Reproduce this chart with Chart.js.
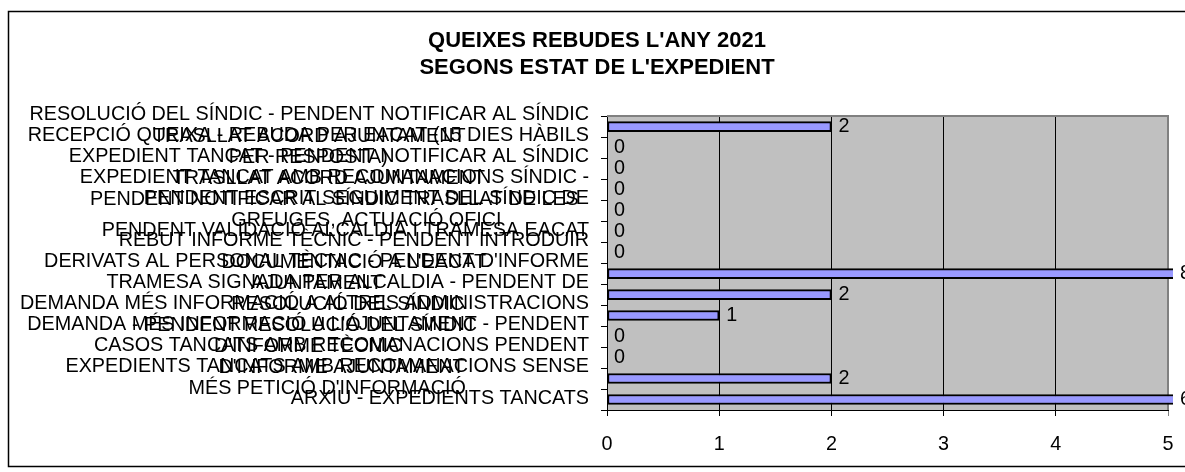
<!DOCTYPE html>
<html>
<head>
<meta charset="utf-8">
<script src="https://cdn.jsdelivr.net/npm/chart.js@4"></script>
<style>
  body { margin: 0; background: #fff; }
  #wrap { width: 1185px; height: 472px; }
</style>
</head>
<body>
<div id="wrap"><canvas id="queixesChart" width="1185" height="472"></canvas></div>
<script>
const titleLines = ["QUEIXES REBUDES L'ANY 2021", "SEGONS ESTAT DE L'EXPEDIENT"];

const categories = [
  ['RESOLUCIÓ DEL SÍNDIC - PENDENT NOTIFICAR AL SÍNDIC', 'TRASLLAT ACORD AJUNTAMENT'],
  ['RECEPCIÓ QUEIXA - REBUDA PER EACAT (15 DIES HÀBILS', 'PER RESPOSTA)'],
  ['EXPEDIENT TANCAT - PENDENT NOTIFICAR AL SÍNDIC', 'TRASLLAT ACORD AJUNTAMENT'],
  ['EXPEDIENT TANCAT AMB RECOMANACIONS SÍNDIC -', 'PENDENT NOTIFICAR AL SÍNDIC TRASLLAT DE LES'],
  ['PENDENT ESCRIT SEGUIMENT DEL SÍNDIC DE', 'GREUGES, ACTUACIÓ OFICI'],
  ['PENDENT VALIDACIÓ ALCALDIA I TRAMESA EACAT'],
  ['REBUT INFORME TÈCNIC - PENDENT INTRODUIR', "DOCUMENTACIÓ A L'EACAT"],
  ["DERIVATS AL PERSONAL TÈCNIC - PENDENT D'INFORME", 'AJUNTAMENT'],
  ['TRAMESA SIGNADA PER ALCALDIA - PENDENT DE', 'RESOLUCIÓ DEL SÍNDIC'],
  ['DEMANDA MÉS INFORMACIÓ A ALTRES ADMINISTRACIONS', '- PENDENT RESOLUCIÓ DEL SÍNDIC'],
  ["DEMANDA MÉS INFORMACIÓ A L'AJUNTAMENT - PENDENT", "D'INFORME TÈCNIC"],
  ['CASOS TANCATS AMB RECOMANACIONS PENDENT', "D'INFORME AJUNTAMENT"],
  ['EXPEDIENTS TANCATS AMB RECOMANACIONS SENSE', "MÉS PETICIÓ D'INFORMACIÓ"],
  ['ARXIU - EXPEDIENTS TANCATS']
];

const queixes = [2, 0, 0, 0, 0, 0, 0, 8, 2, 1, 0, 0, 2, 6];

const xMin = 0;
const xMax = 5;

const FONT = '"Liberation Sans", Arial, sans-serif';
const labelSize = 19.8;
const labelLineHeight = 21.5;

// frame round the whole chart + grey plot area
const backgroundPlugin = {
  id: 'background',
  beforeDraw(chart) {
    const c = chart.ctx;
    const a = chart.chartArea;
    c.save();
    c.fillStyle = '#fff';
    c.fillRect(0, 0, chart.width, chart.height);
    c.strokeStyle = '#000';
    c.lineWidth = 1.5;
    c.strokeRect(8.5, 11.5, chart.width + 10, 455);
    c.fillStyle = '#c0c0c0';
    c.fillRect(a.left, a.top, a.right - a.left, a.bottom - a.top);
    c.restore();
  },
  beforeDatasetsDraw(chart) {
    const c = chart.ctx;
    const a = chart.chartArea;
    c.save();
    c.strokeStyle = '#808080';
    c.lineWidth = 2;
    c.beginPath();
    c.moveTo(a.left, a.top);
    c.lineTo(a.right, a.top);
    c.lineTo(a.right, a.bottom);
    c.stroke();
    c.restore();
  }
};

// category labels: each label's lines centred in its own box, box right-aligned to the axis
const categoryLabelPlugin = {
  id: 'categoryLabels',
  afterDraw(chart) {
    const c = chart.ctx;
    const yScale = chart.scales.y;
    const right = yScale.right - 18;
    c.save();
    c.font = labelSize + 'px ' + FONT;
    c.fillStyle = '#000';
    c.textAlign = 'center';
    c.textBaseline = 'middle';
    categories.forEach((lines, i) => {
      const widest = Math.max(...lines.map(l => c.measureText(l).width));
      const cx = right - widest / 2;
      const cy = yScale.getPixelForValue(i) - 1;
      lines.forEach((line, j) => {
        c.fillText(line, cx, cy + (j - (lines.length - 1) / 2) * labelLineHeight);
      });
    });
    c.restore();
  }
};

// value labels at the end of each bar
const valueLabelPlugin = {
  id: 'valueLabels',
  afterDatasetsDraw(chart) {
    const c = chart.ctx;
    const meta = chart.getDatasetMeta(0);
    const right = chart.chartArea.right + 5;
    c.save();
    c.font = labelSize + 'px ' + FONT;
    c.fillStyle = '#000';
    c.textAlign = 'left';
    c.textBaseline = 'middle';
    meta.data.forEach((bar, i) => {
      c.fillText(String(queixes[i]), Math.min(bar.x, right) + 7, bar.y);
    });
    c.restore();
  }
};

const ctx = document.getElementById('queixesChart').getContext('2d');
const chart = new Chart(ctx, {
  type: 'bar',
  data: {
    labels: categories,
    datasets: [{
      data: queixes,
      backgroundColor: '#9999ff',
      borderColor: '#000',
      borderWidth: 2,
      borderSkipped: false,
      barThickness: 10,
      clip: { left: 0, top: 0, right: 5, bottom: 0 }
    }]
  },
  options: {
    indexAxis: 'y',
    responsive: false,
    devicePixelRatio: 1,
    animation: false,
    layout: { padding: { left: 26, right: 17, top: 0, bottom: 0 } },
    plugins: {
      legend: { display: false },
      tooltip: { enabled: false },
      title: {
        display: true,
        text: titleLines,
        color: '#000',
        font: { family: FONT, size: 22, weight: 'bold', lineHeight: 1.23 },
        padding: { top: 27, bottom: 35 }
      }
    },
    scales: {
      x: {
        min: xMin,
        max: xMax,
        ticks: {
          stepSize: 1,
          color: '#000',
          padding: 5,
          font: { family: FONT, size: labelSize, lineHeight: 2.42 }
        },
        grid: {
          color: ctx => ctx.tick && ctx.tick.value === xMax ? '#808080' : '#000',
          lineWidth: 1,
          tickLength: 6
        },
        border: { display: true, color: '#000', width: 1 },
        afterFit(scale) { scale.height = 62; }
      },
      y: {
        ticks: { display: false },
        grid: {
          drawOnChartArea: false,
          color: '#000',
          tickLength: 6
        },
        border: { display: true, color: '#000', width: 1 },
        afterFit(scale) { scale.width = 581; }
      }
    }
  },
  plugins: [backgroundPlugin, categoryLabelPlugin, valueLabelPlugin]
});
</script>
</body>
</html>
